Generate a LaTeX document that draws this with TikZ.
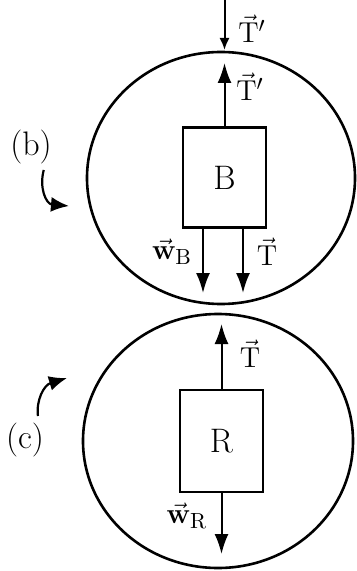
\documentclass[tikz,border=0pt]{standalone}
\usetikzlibrary{arrows.meta}
\begin{document}
\begin{tikzpicture}[x=0.5pt, y=-0.5pt, line width=1pt]

\tikzset{ body/.style={draw, line width=1.1pt, minimum width=41.5pt,
    minimum height=50pt, inner sep=0pt, font={\fontsize{17pt}{19pt}\selectfont}},
  force/.style={-{Latex[length=10pt,width=7pt]}, line width=1pt},
  smallforce/.style={-{Latex[length=6pt,width=5pt]}, line width=1pt},
  pointer/.style={-{Latex[length=9pt,width=7.5pt]}, line width=1.1pt},
  tag/.style={inner sep=0pt, font={\fontsize{15pt}{17pt}\selectfont}},
  bubble/.style={line width=1.3pt}
}

\useasboundingbox (0,0) rectangle (357,571);

% Block B
\begin{scope}
  \draw[bubble] (221,178) ellipse (67pt and 63pt);
  \node[body] (B) at (224.5,177.5) {B};

  \coordinate (rope) at (224.5,0);
  \coordinate (rimout) at (224.5,50);
  \coordinate (rimin) at (224.5,63);
  \coordinate (wBend) at (203,293);
  \coordinate (TBend) at (243,293);

  \draw[smallforce] (rope) -- (rimout);
  \draw[force] (B.north) -- (rimin);
  \draw[force] (B.south -| wBend) -- (wBend);
  \draw[force] (B.south -| TBend) -- (TBend);

  \node[tag] (Ttop) at (252,29) {$\vec{\mathrm{T}}'$};
  \node[tag] (Tin) at (250,87) {$\vec{\mathrm{T}}'$};
  \node[tag] (wB) at (172,252) {$\vec{\mathbf{w}}_{\mathrm{B}}$};
  \node[tag] (TB) at (267,252) {$\vec{\mathrm{T}}$};

  \node[tag, font={\fontsize{17pt}{19pt}\selectfont}] (b) at (31,147) {(b)};
  \coordinate (bpoint) at (69,206);
  \draw[pointer] (b.south east) ++(-9,5) .. controls (39,188) and (46,204) .. (bpoint);
\end{scope}

% Block R
\begin{scope}
  \draw[bubble] (218,441) ellipse (67.5pt and 63.5pt);
  \node[body, minimum height=51pt] (R) at (221.5,441) {R};

  \coordinate (TRend) at (221.5,324);
  \coordinate (wRend) at (221.5,554);

  \draw[force] (R.north) -- (TRend);
  \draw[force] (R.south) -- (wRend);

  \node[tag] (TR) at (250,354) {$\vec{\mathrm{T}}$};
  \node[tag] (wR) at (187,516) {$\vec{\mathbf{w}}_{\mathrm{R}}$};

  \node[tag, font={\fontsize{17pt}{19pt}\selectfont}] (c) at (25,440) {(c)};
  \coordinate (cpoint) at (67,378);
  \draw[pointer] (c.north east) ++(-7,-6) .. controls (36,400) and (44,385) .. (cpoint);
\end{scope}

\end{tikzpicture}
\end{document}
